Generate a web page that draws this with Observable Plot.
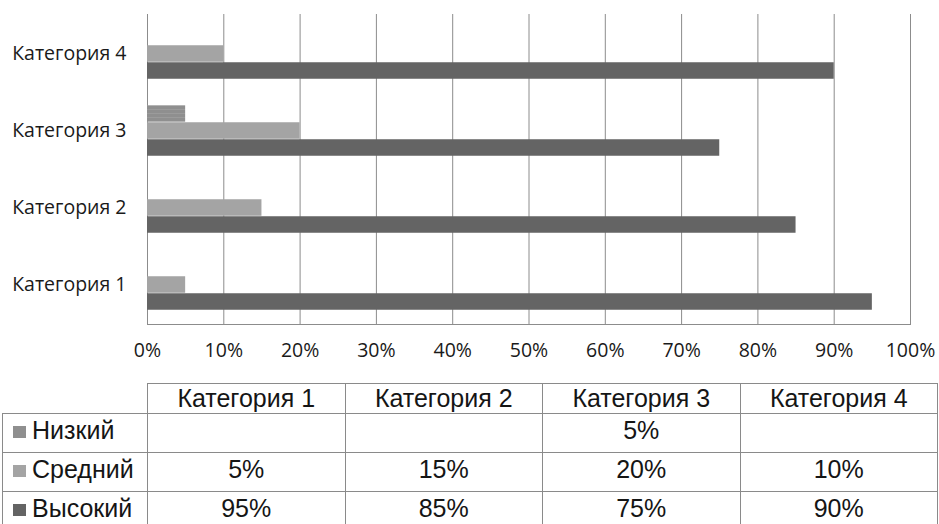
<!DOCTYPE html>
<html><head><meta charset="utf-8">
<script src="https://cdn.jsdelivr.net/npm/d3@7"></script>
<script src="https://cdn.jsdelivr.net/npm/@observablehq/plot@0.6"></script>
<style>
body{margin:0;background:#fff;width:939px;height:524px;overflow:hidden;position:relative;}
#chart{position:absolute;left:0;top:0;}
table{position:absolute;left:2px;top:383px;border-collapse:collapse;table-layout:fixed;font-family:"Liberation Sans",Arial,sans-serif;font-size:25px;color:#151515;}
td{border:1px solid #8a8a8a;padding:0 0 5px 0;text-align:center;height:33px;white-space:nowrap;line-height:27px;}
tr.head td{height:29px;padding:0;}
td.blank{border-top:none;border-left:none;}
td.name{text-align:left;padding-left:4px;}
.sw{display:inline-block;width:13px;height:12px;margin:0 6px 0 6px;vertical-align:1px;}
</style>
</head><body>
<div id="chart"></div>
<table id="tbl"></table>
<script>
const categories = ["Категория 1", "Категория 2", "Категория 3", "Категория 4"];
const seriesNames = ["Низкий", "Средний", "Высокий"];
const lowValues = [null, null, 0.05, null];
const midValues = [0.05, 0.15, 0.20, 0.10];
const highValues = [0.95, 0.85, 0.75, 0.90];
const xTicks = [0, 0.1, 0.2, 0.3, 0.4, 0.5, 0.6, 0.7, 0.8, 0.9, 1.0];
const seriesColors = ["#8f8f8f", "#a4a4a4", "#646464"];

const seriesValues = [lowValues, midValues, highValues];
const rows = [];
seriesNames.forEach((s, si) => categories.forEach((c, ci) => {
  const v = seriesValues[si][ci];
  if (v != null) rows.push({series: s, category: c, value: v});
}));

const barH = 17;
const bandH = (370 - 14 - 46) / categories.length;
const inset = (bandH - barH) / 2;
const offsets = [-barH, 0, barH];
const fmt = d3.format(".0%");

const barMarks = seriesNames.map((s, si) => Plot.barX(rows.filter(d => d.series === s), {
  x: "value", y: "category", fill: seriesColors[si],
  insetTop: inset, insetBottom: inset, dy: offsets[si],
  className: "bars-" + si
}));

const chart = Plot.plot({
  width: 939, height: 370,
  marginLeft: 147, marginRight: 29, marginTop: 14, marginBottom: 46,
  style: {fontFamily: '"Open Sans", sans-serif', fontSize: "19.5px", color: "#1a1a1a", background: "#fff"},
  x: {domain: [0, 1], label: null},
  y: {domain: categories.slice().reverse(), padding: 0, label: null},
  marks: [
    Plot.ruleX(xTicks, {stroke: "#8c8c8c", strokeWidth: 1}),
    Plot.frame({anchor: "bottom", stroke: "#8c8c8c"}),
    ...barMarks,
    Plot.axisX({ticks: xTicks, tickFormat: fmt, tickSize: 0, tickPadding: 19, label: null}),
    Plot.axisY({tickSize: 0, tickPadding: 21, label: null})
  ]
});
document.getElementById("chart").appendChild(chart);

// subtle striped texture for the "Низкий" bars
const svg = d3.select(chart);
const defs = svg.insert("defs", ":first-child");
const pat = defs.append("pattern").attr("id", "lowpat").attr("patternUnits", "userSpaceOnUse")
  .attr("width", 6).attr("height", 4);
pat.append("rect").attr("width", 6).attr("height", 4).attr("fill", seriesColors[0]);
pat.append("rect").attr("y", 2).attr("width", 6).attr("height", 1).attr("fill", "#9b9b9b");
svg.selectAll(".bars-0 rect").attr("fill", "url(#lowpat)");

// data table
const tbl = d3.select("#tbl");
const cg = tbl.append("colgroup");
cg.append("col").style("width", "145px");
categories.forEach(() => cg.append("col").style("width", "197.5px"));
const head = tbl.append("tr").attr("class", "head");
head.append("td").attr("class", "blank");
categories.forEach(c => head.append("td").text(c));
seriesNames.forEach((s, si) => {
  const tr = tbl.append("tr");
  const nm = tr.append("td").attr("class", "name");
  nm.append("span").attr("class", "sw").style("background", seriesColors[si]);
  nm.append("span").text(s);
  seriesValues[si].forEach(v => tr.append("td").text(v == null ? "" : fmt(v)));
});
</script>
</body></html>
